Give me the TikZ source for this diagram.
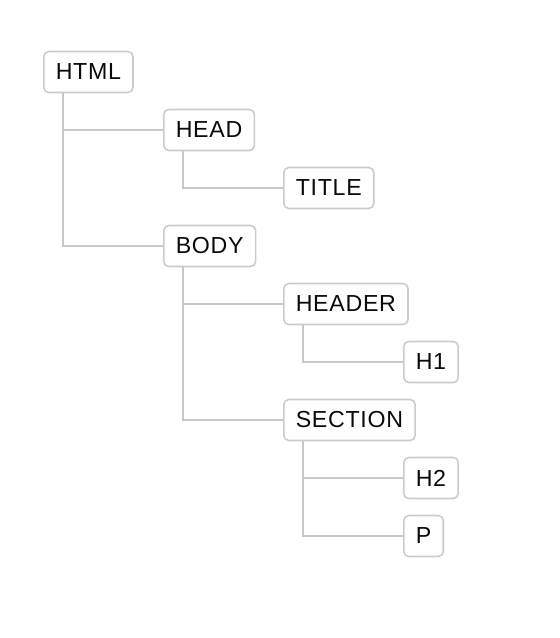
\documentclass[tikz,border=0pt]{standalone}
\usepackage{fontspec}
\setmainfont{Liberation Sans}[LetterSpace=3]
\usetikzlibrary{positioning}
\definecolor{treeline}{HTML}{C8C8C8}
\definecolor{boxline}{HTML}{CBCBCB}
\definecolor{tagtext}{HTML}{0A0A0A}

\begin{document}
\begin{tikzpicture}[x=1pt, y=-1pt,
  tag/.style={draw=boxline, line width=1.6pt, rounded corners=5pt, fill=white,
    minimum height=41pt, inner xsep=12pt, anchor=west, text=tagtext,
    font=\fontsize{23.2}{27}\selectfont},
  link/.style={draw=treeline, line width=1.6pt},
]
  \useasboundingbox (0,0) rectangle (560,638);

  % Left edge of each tag, one row every 58pt
  \path
    (43,72) coordinate (c-html) (163,130) coordinate (c-head)
    (283,188) coordinate (c-title) (163,246) coordinate (c-body)
    (283,304) coordinate (c-header) (403,362) coordinate (c-hone)
    (283,420) coordinate (c-section) (403,478) coordinate (c-htwo)
    (403,536) coordinate (c-p);

  % Tags
  \node[tag] (html) at (c-html) {HTML};
  \node[tag] (head) at (c-head) {HEAD};
  \node[tag] (title) at (c-title) {TITLE};
  \node[tag] (body) at (c-body) {BODY};
  \node[tag] (header) at (c-header) {HEADER};
  \node[tag] (hone) at (c-hone) {H1};
  \node[tag] (section) at (c-section) {SECTION};
  \node[tag] (htwo) at (c-htwo) {H2};
  \node[tag] (p) at (c-p) {P};

  % Tree links
  \foreach \parent/\child in {html/head, head/title, html/body, body/header,
                              header/hone, body/section, section/htwo, section/p}
    \draw[link] ([xshift=20pt]\parent.south west) |- (\child.west);
\end{tikzpicture}
\end{document}
